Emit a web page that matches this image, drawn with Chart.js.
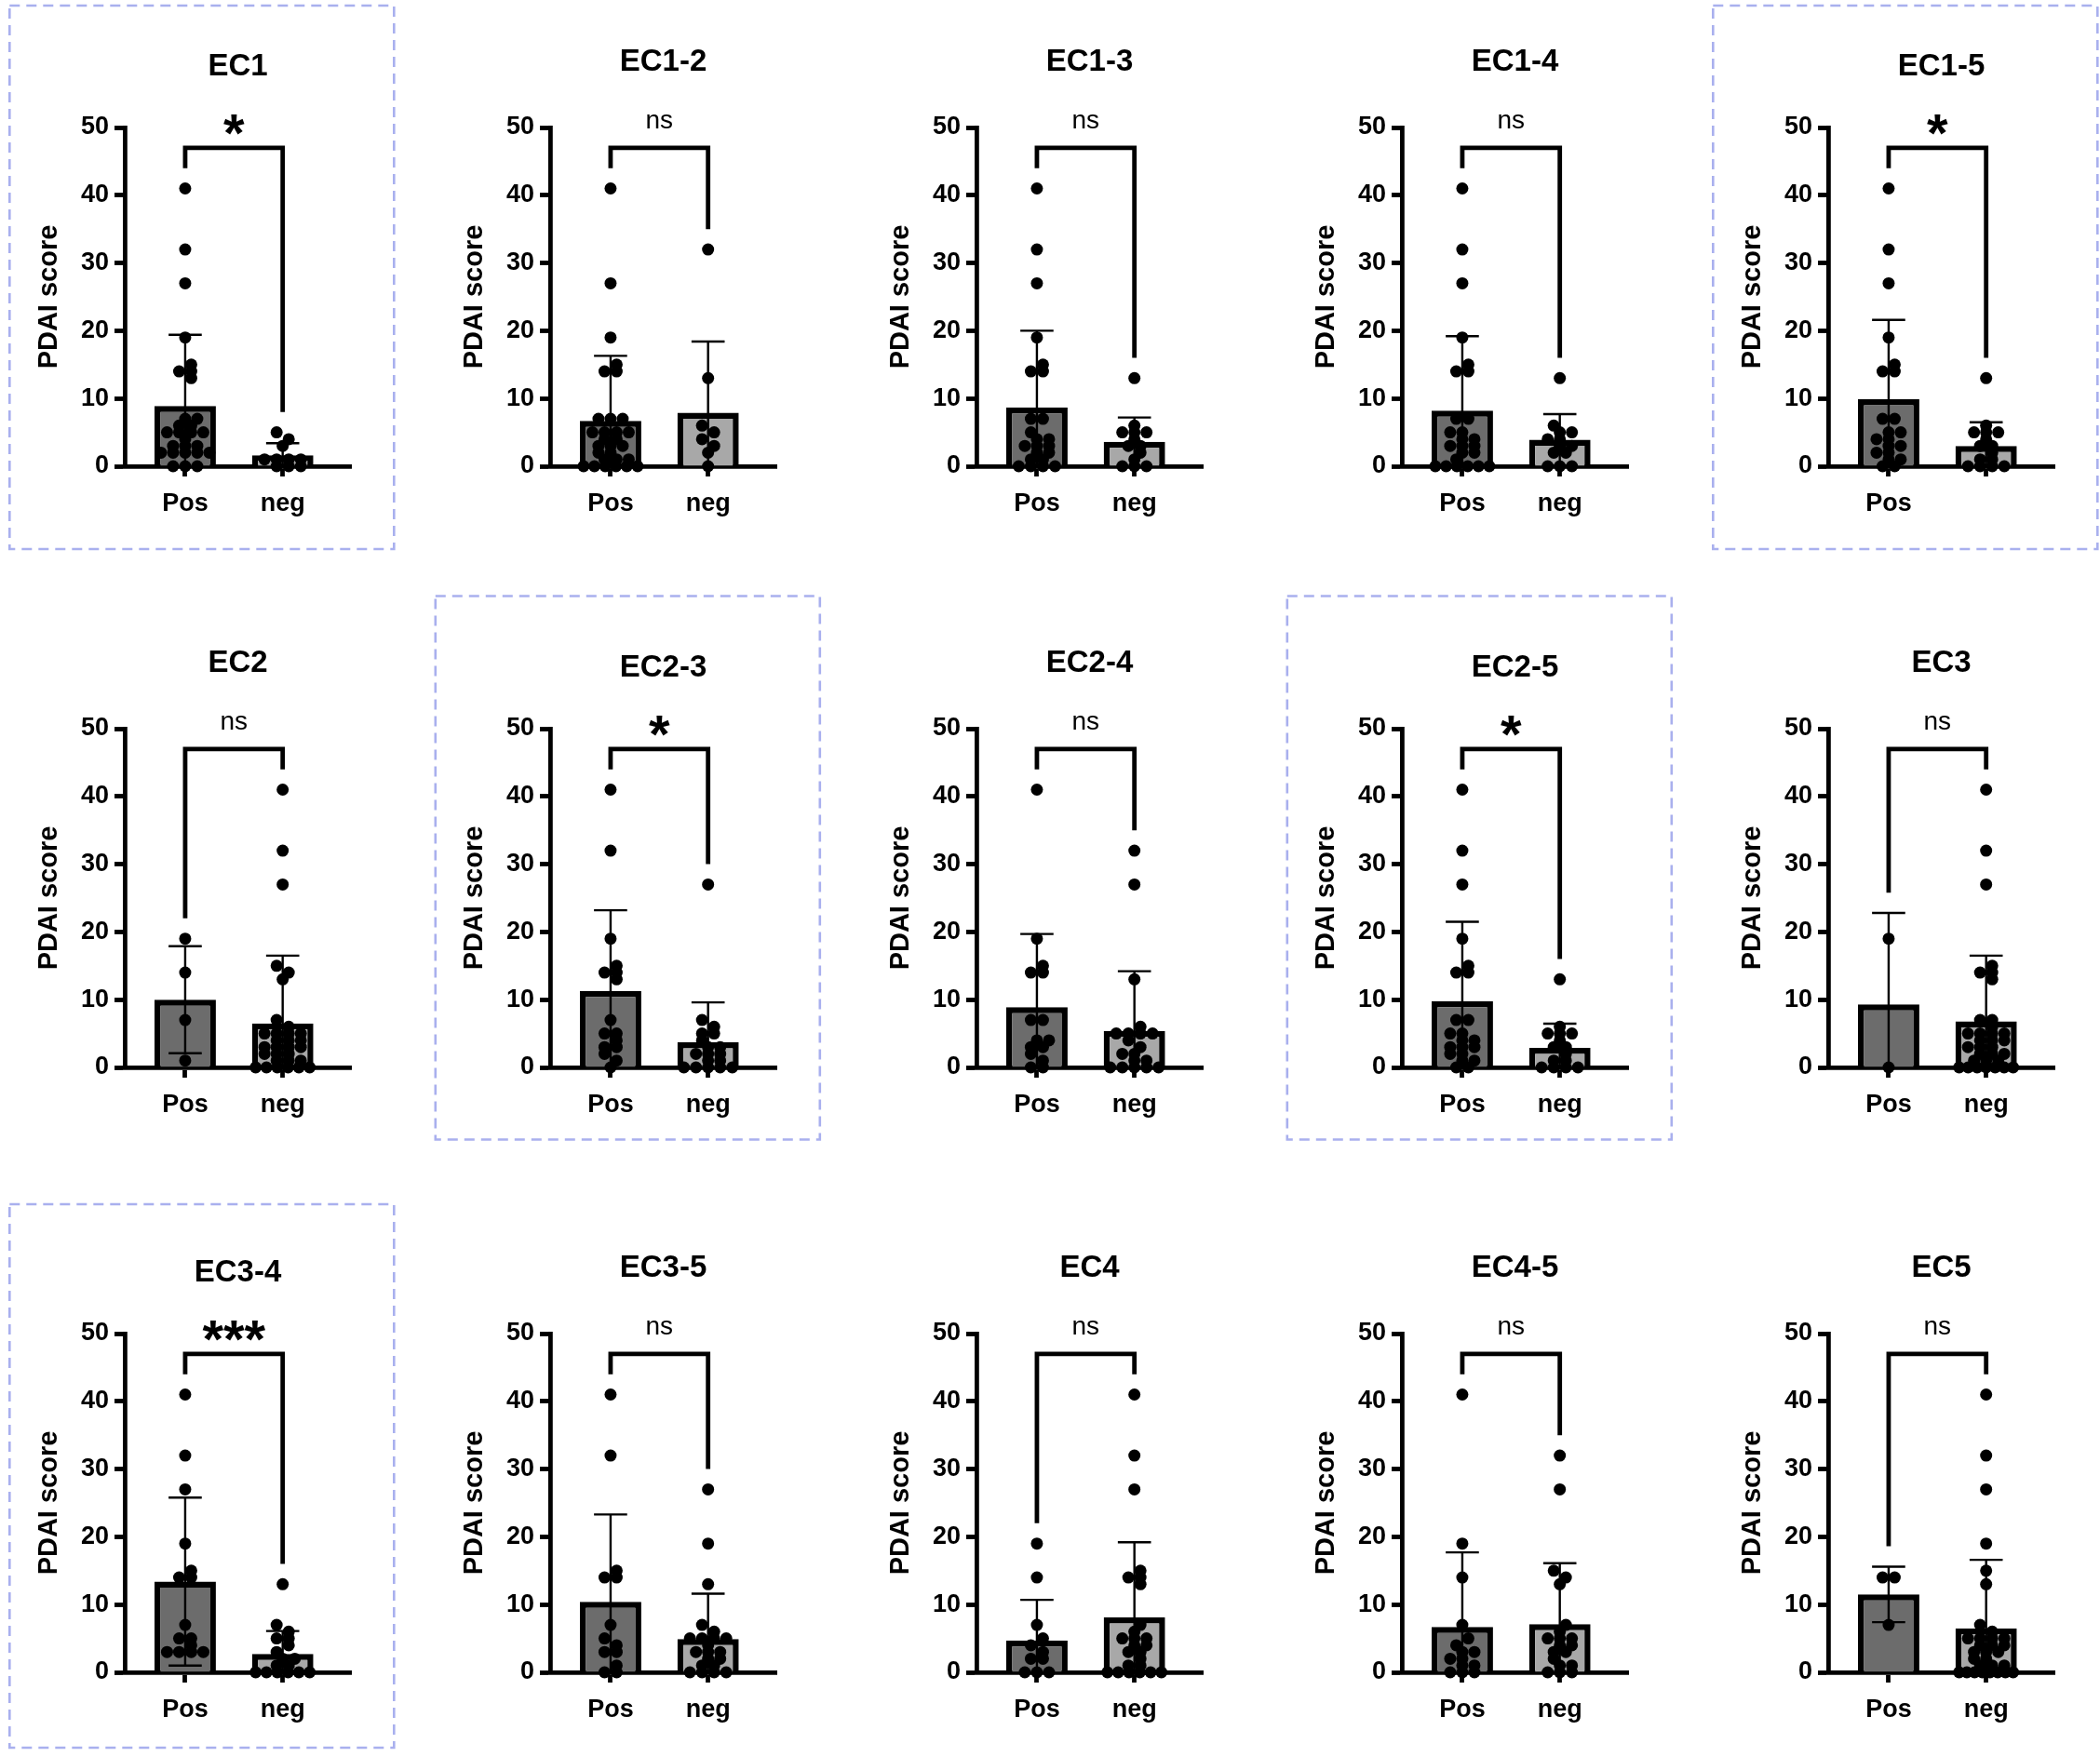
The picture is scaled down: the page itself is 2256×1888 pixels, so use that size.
<!DOCTYPE html>
<html><head><meta charset="utf-8">
<script src="https://cdn.jsdelivr.net/npm/chart.js@4.4.1/dist/chart.umd.min.js"></script>
<style>
html,body{margin:0;padding:0;background:#fff;}
#root{position:relative;width:2256px;height:1888px;overflow:hidden;background:#fff;}
canvas.panel{position:absolute;}
#boxes{position:absolute;left:0;top:0;}
</style></head><body>
<div id="root"><svg id="boxes" width="2256" height="1888"></svg></div>
<script>
// ---------- DATA ----------
const panelTitles = ['EC1','EC1-2','EC1-3','EC1-4','EC1-5','EC2','EC2-3','EC2-4','EC2-5','EC3','EC3-4','EC3-5','EC4','EC4-5','EC5'];
const sigLabels = ['*','ns','ns','ns','*','ns','*','ns','*','ns','***','ns','ns','ns','ns'];
const groupLabels = [['Pos','neg'],['Pos','neg'],['Pos','neg'],['Pos','neg'],['Pos',''],
  ['Pos','neg'],['Pos','neg'],['Pos','neg'],['Pos','neg'],['Pos','neg'],
  ['Pos','neg'],['Pos','neg'],['Pos','neg'],['Pos','neg'],['Pos','neg']];
const yTickValues = [0,10,20,30,40,50];
const yAxisTitle = 'PDAI score';

const posMean = [8.9,6.7,8.7,8.2,9.9,10.0,11.3,8.9,9.8,9.3,13.4,10.4,4.7,6.7,11.5];
const posSD   = [10.5,9.6,11.3,11.0,11.7,7.9,11.9,10.8,11.7,13.5,12.4,12.9,6.0,11.0,4.1];
const negMean = [1.6,7.9,3.6,3.9,3.0,6.5,3.7,5.4,2.9,6.8,2.7,4.9,8.1,7.1,6.5];
const negSD   = [1.8,10.5,3.6,3.8,3.5,10.0,5.9,8.8,3.55,9.7,3.4,6.7,11.1,9.0,10.1];

const posPoints = [
  [41,32,27,19,15,14,14,13,7,7,6,6,5,5,5,5,4,3,3,3,2,2,2,2,2,0,0,0],
  [41,27,19,15,14,14,7,7,7,5,5,5,5,4,4,3,3,3,2,2,1,1,1,0,0,0,0,0,0],
  [41,32,27,19,15,14,14,7,7,5,4,4,3,3,3,2,2,1,1,0,0,0,0],
  [41,32,27,19,15,14,14,7,7,5,5,4,4,3,3,3,2,2,1,0,0,0,0,0,0],
  [41,32,27,19,15,14,14,7,7,5,5,4,4,3,3,2,2,1,1,0,0],
  [19,14,7,1],
  [41,32,19,15,14,14,13,7,5,5,4,3,3,2,1,0],
  [41,19,15,14,14,7,7,4,4,3,3,2,1,0,0],
  [41,32,27,19,15,14,14,7,7,5,5,4,4,3,3,3,2,2,1,1,0,0],
  [19,0],
  [41,32,27,19,15,14,14,7,5,5,4,3,3,3,3],
  [41,32,15,14,14,7,5,4,3,3,1,0,0],
  [19,14,7,5,4,3,2,2,0,0,0],
  [41,19,14,7,5,4,3,3,2,2,1,1,0,0,0],
  [14,14,7]
];
const negPoints = [
  [5,4,3,1,1,1,1,0,0,0],
  [32,13,6,5,4,3,2,0],
  [13,6,5,5,5,4,3,3,2,1,0,0,0],
  [13,6,5,5,4,4,3,3,2,2,0,0,0],
  [13,6,5,5,5,4,3,3,2,1,1,0,0,0,0],
  [41,32,27,15,14,13,7,6,5,5,5,5,4,4,4,3,3,3,3,2,2,2,1,1,1,0,0,0,0,0,0],
  [27,7,6,5,5,4,3,3,2,2,2,1,1,0,0,0,0,0],
  [32,27,13,6,5,5,5,5,4,3,2,2,1,1,0,0,0,0,0],
  [13,6,5,5,5,4,3,3,2,1,1,0,0,0,0],
  [41,32,27,15,14,14,13,7,7,6,5,5,5,5,4,4,4,3,3,3,2,2,2,1,1,1,0,0,0,0,0,0,0],
  [13,7,6,5,5,4,3,2,2,1,1,0,0,0,0,0,0],
  [27,19,13,7,6,5,5,5,5,4,3,3,3,2,2,1,1,0,0,0,0],
  [41,32,27,15,14,14,13,7,6,5,5,5,4,4,3,3,2,1,1,0,0,0,0,0,0],
  [32,27,15,14,13,7,6,5,5,5,4,4,3,3,2,1,1,0,0,0],
  [41,32,27,19,15,13,7,6,5,5,5,5,4,4,4,3,3,3,2,2,1,1,1,0,0,0,0,0,0,0,0]
];

// ---------- LAYOUT / STYLE ----------
const FONT = '"Liberation Sans", Arial, Helvetica, sans-serif';
const AXIS_X0 = 133.8, COL_STEP = 457.5;
const ZERO_Y = [500.7, 1146.7, 1797.1];
const BOX_TOP = [6, 640.5, 1294];
const CW = 420, CH = 600, AREA_LEFT = 124, AREA_RIGHT = 367, AREA_BOTTOM = 500;
const POS_FILL = '#6c6c6c', NEG_FILL = '#a8a8a8';
const DOT_R = 6.5, DOT_GAP = 13;
const MAX_SPAN = 58;
const AXIS_W = 4.8;

const root = document.getElementById('root');
const svg = document.getElementById('boxes');

// beeswarm-like layout of a group's points (pixel space -> data space)
function swarm(xs, ys, center, values, d, r) {
  const cx = xs.getPixelForValue(center);
  const counts = new Map();
  values.forEach(v => counts.set(v, (counts.get(v) || 0) + 1));
  const rows = [...counts.entries()].sort((a, b) => b[1] - a[1] || a[0] - b[0]);
  const placed = [], out = [];
  for (const [v, n] of rows) {
    const py = ys.getPixelForValue(v);
    const step = n > 1 ? Math.min(d, MAX_SPAN / (n - 1)) : d;
    let best = null, bestCost = Infinity;
    const shifts = (n - 1) * step + step / 2 <= MAX_SPAN ? [0, step / 2, -step / 2] : [0];
    for (const shift of shifts) {
      const cand = [];
      for (let k = 0; k < n; k++) cand.push(cx + (k - (n - 1) / 2) * step + shift);
      let cost = Math.abs(shift) * 0.02;
      for (const px of cand) for (const q of placed) {
        const dist = Math.hypot(px - q.x, py - q.y);
        if (dist < 2 * r) cost += 2 * r - dist;
      }
      if (cost < bestCost) { bestCost = cost; best = cand; }
    }
    best.forEach(px => { placed.push({x: px, y: py}); out.push({x: xs.getValueForPixel(px), y: v}); });
  }
  return out;
}

panelTitles.forEach((title, i) => {
  const col = i % 5, row = Math.floor(i / 5);
  const axisX = AXIS_X0 + col * COL_STEP;
  const left = axisX - AREA_LEFT, top = ZERO_Y[row] - AREA_BOTTOM;
  const boxed = sigLabels[i] !== 'ns';
  const cv = document.createElement('canvas');
  cv.className = 'panel';
  cv.width = CW; cv.height = CH;
  cv.style.left = left + 'px'; cv.style.top = top + 'px';
  cv.style.width = CW + 'px'; cv.style.height = CH + 'px';
  root.appendChild(cv);

  if (boxed) {
    const r = document.createElementNS('http://www.w3.org/2000/svg', 'rect');
    r.setAttribute('x', left + 0.5); r.setAttribute('y', BOX_TOP[row]);
    r.setAttribute('width', 413); r.setAttribute('height', 584);
    r.setAttribute('fill', 'none'); r.setAttribute('stroke', '#a9b0ee');
    r.setAttribute('stroke-width', 2.6); r.setAttribute('stroke-dasharray', '11 7');
    svg.appendChild(r);
  }

  const overlay = {
    id: 'overlay' + i,
    afterDatasetsDraw(chart) {
      const ctx = chart.ctx, xs = chart.scales.x, ys = chart.scales.y;
      const barW = chart.getDatasetMeta(0).data[0].width;
      const cap = barW * 0.27;
      ctx.save();
      ctx.strokeStyle = '#000'; ctx.lineWidth = 2.4; ctx.lineCap = 'butt';
      [[1, posMean[i], posSD[i]], [2, negMean[i], negSD[i]]].forEach(([c, m, s]) => {
        const xp = xs.getPixelForValue(c);
        const yt = ys.getPixelForValue(m + s);
        const low = m - s;
        const yb = ys.getPixelForValue(Math.max(low, 0));
        ctx.beginPath();
        ctx.moveTo(xp, yt); ctx.lineTo(xp, yb);
        ctx.moveTo(xp - cap, yt); ctx.lineTo(xp + cap, yt);
        if (low > 0) { ctx.moveTo(xp - cap, yb); ctx.lineTo(xp + cap, yb); }
        ctx.stroke();
      });
      // significance bracket
      const legPos = Math.max(Math.max(...posPoints[i]), posMean[i] + posSD[i]) + 3;
      const legNeg = Math.max(Math.max(...negPoints[i]), negMean[i] + negSD[i]) + 3;
      const x1 = xs.getPixelForValue(1), x2 = xs.getPixelForValue(2);
      const yTop = ys.getPixelForValue(47);
      ctx.lineWidth = AXIS_W; ctx.lineJoin = 'miter'; ctx.lineCap = 'butt';
      ctx.beginPath();
      ctx.moveTo(x1, ys.getPixelForValue(legPos));
      ctx.lineTo(x1, yTop); ctx.lineTo(x2, yTop);
      ctx.lineTo(x2, ys.getPixelForValue(legNeg));
      ctx.stroke();
      ctx.fillStyle = '#000'; ctx.textAlign = 'center'; ctx.textBaseline = 'alphabetic';
      const sig = sigLabels[i];
      if (sig === 'ns') {
        ctx.font = '28px ' + FONT;
        ctx.fillText(sig, (x1 + x2) / 2, yTop - 21);
      } else {
        ctx.font = 'bold 58px ' + FONT;
        ctx.fillText(sig, (x1 + x2) / 2, yTop + 4);
      }
      ctx.restore();
    }
  };

  const chart = new Chart(cv, {
    type: 'bar',
    data: {
      datasets: [
        {
          type: 'bar',
          data: [{x: 1, y: posMean[i]}, {x: 2, y: negMean[i]}],
          backgroundColor: [POS_FILL, NEG_FILL],
          borderColor: '#000', borderWidth: 6.5, borderSkipped: 'start',
          barPercentage: 0.63, categoryPercentage: 1, order: 2
        },
        {
          type: 'scatter',
          data: posPoints[i].map(v => ({x: 1, y: v})).concat(negPoints[i].map(v => ({x: 2, y: v}))),
          pointRadius: DOT_R, pointBackgroundColor: '#000', pointBorderWidth: 0,
          pointBorderColor: '#000', clip: false, order: 1
        }
      ]
    },
    options: {
      responsive: false, animation: false, devicePixelRatio: 1,
      events: [],
      layout: {padding: {left: 0, right: CW - AREA_RIGHT, top: 0, bottom: 0}},
      plugins: {
        legend: {display: false}, tooltip: {enabled: false},
        title: {
          display: true, text: title, fullSize: false, color: '#000',
          font: {family: FONT, size: 33, weight: 'bold', lineHeight: 1.2},
          padding: boxed ? {top: 51, bottom: 45.4} : {top: 46, bottom: 50.4}
        }
      },
      scales: {
        x: {
          type: 'linear', min: 0.38, max: 2.70, offset: false,
          afterBuildTicks: s => { s.ticks = [{value: 1}, {value: 2}]; },
          afterFit: s => { s.height = CH - AREA_BOTTOM; },
          ticks: {
            callback: v => groupLabels[i][v - 1],
            color: '#000', font: {family: FONT, size: 27, weight: 'bold'},
            padding: 13, autoSkip: false, maxRotation: 0
          },
          grid: {drawOnChartArea: false, drawTicks: true, tickLength: 11, tickWidth: AXIS_W, tickColor: '#000', offset: false},
          border: {display: true, color: '#000', width: AXIS_W}
        },
        y: {
          type: 'linear', min: 0, max: 50,
          afterBuildTicks: s => { s.ticks = yTickValues.map(v => ({value: v})); },
          afterFit: s => { s.width = AREA_LEFT; },
          ticks: {color: '#000', font: {family: FONT, size: 27, weight: 'bold'}, padding: 6},
          grid: {drawOnChartArea: false, drawTicks: true, tickLength: 11, tickWidth: AXIS_W, tickColor: '#000'},
          border: {display: true, color: '#000', width: AXIS_W},
          title: {
            display: true, text: yAxisTitle, color: '#000',
            font: {family: FONT, size: 29, weight: 'bold', lineHeight: 1.2},
            padding: {top: 26, bottom: 0}
          }
        }
      }
    },
    plugins: [overlay]
  });

  const xs = chart.scales.x, ys = chart.scales.y;
  chart.data.datasets[1].data = swarm(xs, ys, 1, posPoints[i], DOT_GAP, DOT_R)
    .concat(swarm(xs, ys, 2, negPoints[i], DOT_GAP, DOT_R));
  chart.update('none');
});
</script>
</body></html>
